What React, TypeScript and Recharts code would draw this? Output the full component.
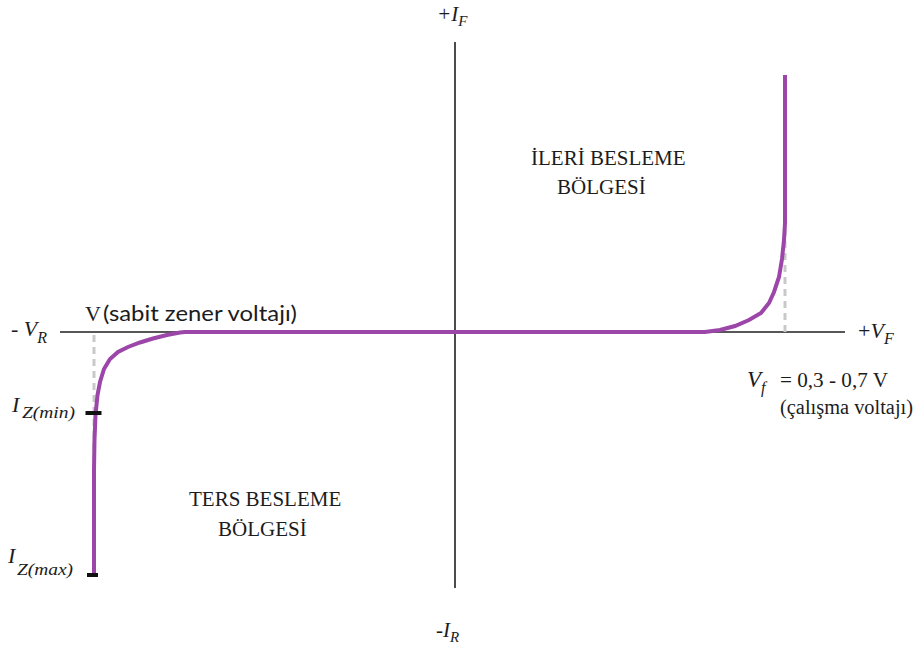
import React from "react";
import {
  Customized,
  Line,
  LineChart,
  ReferenceLine,
  XAxis,
  YAxis,
} from "recharts";

// zener diode I-V curve, arbitrary units (voltage on x, current on y)
const curveV = [
  -36.1, -36.1, -36.05, -35.95, -35.75, -35.5, -35.1, -34.5, -33.7, -32.7,
  -31.5, -30.2, -28.8, -27.5, -27.0, 25.0, 26.5, 28.0, 29.4, 30.6, 31.4,
  31.9, 32.4, 32.7, 32.9, 33.0, 33.0,
];
const curveI = [
  -24.3, -13.8, -10.8, -8.3, -6.3, -5.0, -3.7, -2.7, -2.0, -1.5, -1.05, -0.65,
  -0.3, -0.05, 0, 0, 0.2, 0.6, 1.2, 1.9, 2.9, 4.0, 5.5, 7.3, 9.2, 10.9, 25.7,
];

const vDomain = [-39.5, 39];
const iDomain = [-25.6, 29];

// working-point markers
const zenerV = -36.1;
const izMin = -8.1;
const izMax = -24.3;
const forwardV = 33.0;
const forwardKnee = 10.9;

const data = curveV.map((v, k) => ({ v, i: curveI[k] }));

const mathFont = "'Liberation Serif', 'DejaVu Serif', serif";
const textFont = "'Liberation Serif', 'Times New Roman', serif";
const ink = "#1c1c1c";

const Annotations = () => (
  <g fill={ink}>
    {/* axis ends */}
    <text x={437} y={21} fontFamily={mathFont} fontStyle="italic" fontSize={21}>
      +I<tspan fontSize={15} dy={5}>F</tspan>
    </text>
    <text x={436} y={637} fontFamily={mathFont} fontStyle="italic" fontSize={21}>
      -I<tspan fontSize={15} dy={5}>R</tspan>
    </text>
    <text x={11} y={336} fontFamily={mathFont} fontSize={22}>
      - <tspan fontStyle="italic">V</tspan>
      <tspan fontStyle="italic" fontSize={16} dy={7}>R</tspan>
    </text>
    <text x={858} y={338} fontFamily={mathFont} fontSize={22}>
      +<tspan fontStyle="italic">V</tspan>
      <tspan fontStyle="italic" fontSize={16} dy={6}>F</tspan>
    </text>

    {/* zener side */}
    <text x={85} y={321} fontFamily={mathFont} fontSize={22}>V</text>
    <text
      x={103}
      y={321}
      fontFamily="Lato, 'Open Sans', sans-serif"
      fontSize={22}
      textLength={194}
      lengthAdjust="spacingAndGlyphs"
    >
      (sabit zener voltajı)
    </text>
    <text x={12} y={412} fontFamily={mathFont} fontStyle="italic" fontSize={22}>I</text>
    <text
      x={22}
      y={418}
      fontFamily={mathFont}
      fontStyle="italic"
      fontSize={16}
      textLength={53}
      lengthAdjust="spacingAndGlyphs"
    >
      Z(min)
    </text>
    <text x={8} y={563} fontFamily={mathFont} fontStyle="italic" fontSize={22}>I</text>
    <text
      x={17}
      y={575}
      fontFamily={mathFont}
      fontStyle="italic"
      fontSize={16}
      textLength={56}
      lengthAdjust="spacingAndGlyphs"
    >
      Z(max)
    </text>

    {/* region names */}
    <text x={531} y={165} fontFamily={textFont} fontSize={21}>İLERİ BESLEME</text>
    <text x={557} y={194} fontFamily={textFont} fontSize={21}>BÖLGESİ</text>
    <text x={189} y={506} fontFamily={textFont} fontSize={21}>TERS BESLEME</text>
    <text x={218} y={536} fontFamily={textFont} fontSize={21}>BÖLGESİ</text>

    {/* forward voltage note */}
    <text x={747} y={387} fontFamily={mathFont} fontStyle="italic" fontSize={23}>
      V<tspan fontSize={16} dy={6}>f</tspan>
    </text>
    <text
      x={780}
      y={387}
      fontFamily={textFont}
      fontSize={20}
      textLength={108}
      lengthAdjust="spacingAndGlyphs"
    >
      = 0,3 - 0,7 V
    </text>
    <text
      x={780}
      y={414}
      fontFamily={textFont}
      fontSize={20}
      textLength={133}
      lengthAdjust="spacingAndGlyphs"
    >
      (çalışma voltajı)
    </text>
  </g>
);

export default function App() {
  return (
    <div style={{ position: "absolute", left: 0, top: 0, background: "#fff" }}>
      <LineChart
        width={915}
        height={652}
        data={data}
        margin={{ top: 42, right: 70, bottom: 64, left: 60 }}
      >
        <XAxis dataKey="v" type="number" domain={vDomain} hide />
        <YAxis type="number" domain={iDomain} hide />

        <ReferenceLine x={0} stroke="#1f1f1f" strokeWidth={1.6} />
        <ReferenceLine y={0} stroke="#1f1f1f" strokeWidth={1.6} />

        <ReferenceLine
          segment={[
            { x: zenerV, y: -0.3 },
            { x: zenerV, y: -13.5 },
          ]}
          stroke="#c9c9c9"
          strokeWidth={3}
          strokeDasharray="7 5"
        />
        <ReferenceLine
          segment={[
            { x: forwardV, y: 0 },
            { x: forwardV, y: forwardKnee },
          ]}
          stroke="#c9c9c9"
          strokeWidth={3}
          strokeDasharray="7 5"
        />

        <Line
          dataKey="i"
          type="linear"
          stroke="#9c46a9"
          strokeWidth={4}
          dot={false}
          isAnimationActive={false}
        />

        <ReferenceLine
          segment={[
            { x: zenerV - 0.85, y: izMin },
            { x: zenerV + 0.75, y: izMin },
          ]}
          stroke="#111"
          strokeWidth={4}
        />
        <ReferenceLine
          segment={[
            { x: zenerV - 0.7, y: izMax },
            { x: zenerV + 0.4, y: izMax },
          ]}
          stroke="#111"
          strokeWidth={4}
        />

        <Customized component={<Annotations />} />
      </LineChart>
    </div>
  );
}
